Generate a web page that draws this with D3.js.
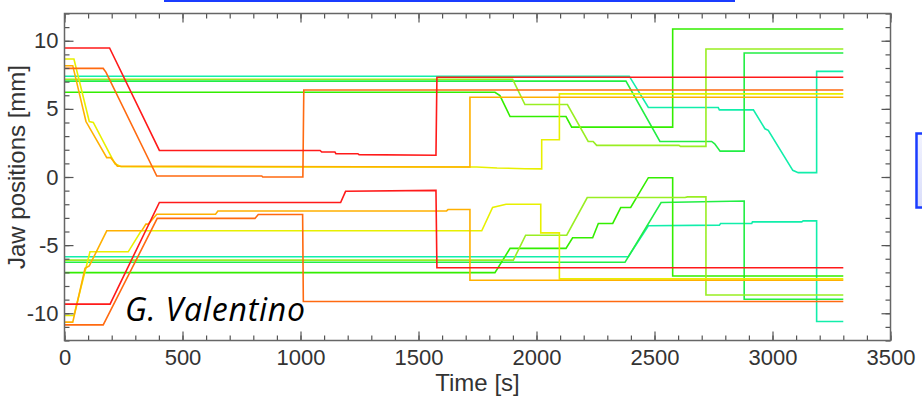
<!DOCTYPE html>
<html>
<head>
<meta charset="utf-8">
<script src="https://cdn.jsdelivr.net/npm/d3@7"></script>
<style>
  body { margin: 0; background: #fff; }
  svg { display: block; }
</style>
</head>
<body>
<div id="chart"></div>
<script>
// jaw positions [time s, position mm]
const redUp     = [[0,9.47],[191,9.47],[402,1.95],[1083,1.95],[1090,1.83],[1146,1.83],[1150,1.71],[1243,1.71],[1248,1.64],[1574,1.6],[1578,7.32],[3300,7.32]]
const redLow    = [[0,-9.33],[193,-9.33],[402,-1.87],[1170,-1.87],[1191,-1.05],[1574,-0.98],[1578,-6.66],[3300,-6.66]]
const orRedUp   = [[0,7.97],[164,7.97],[176,7.68],[391,0.07],[836,0.07],[840,0.0],[1010,0.0],[1014,6.39],[3300,6.39]]
const orRedLow  = [[0,-10.85],[164,-10.85],[176,-10.45],[393,-3.04],[807,-3.04],[821,-2.75],[1009,-2.75],[1012,-9.14],[3300,-9.14]]
const goldUp    = [[0,8.17],[35,8.17],[91,4.07],[179,1.42],[196,1.42],[224,0.8],[1718,0.73],[1718,5.85],[3300,5.85]]
const goldLow   = [[0,-10.65],[35,-10.65],[87,-6.7],[105,-6.53],[179,-3.95],[327,-3.95],[345,-3.46],[355,-3.46],[391,-2.73],[640,-2.73],[650,-2.49],[1619,-2.49],[1625,-2.39],[1718,-2.39],[1718,-7.58],[3300,-7.58]]
const yelUp     = [[0,8.66],[40,8.66],[105,4.07],[122,4.0],[214,0.97],[240,0.75],[1747,0.73],[1833,0.66],[1951,0.61],[2022,0.6],[2022,2.73],[2097,2.73],[2097,6.1],[3300,6.1]]
const yelLow    = [[0,-10.17],[40,-10.17],[108,-5.49],[270,-5.49],[325,-3.95],[1768,-3.95],[1814,-2.24],[1871,-2.0],[2018,-2.0],[2018,-4.1],[2097,-4.1],[2097,-7.48],[3300,-7.48]]
const ygUp      = [[0,7.17],[1899,7.17],[1951,5.32],[2131,5.32],[2219,2.61],[2240,2.61],[2255,2.32],[2604,2.32],[2610,2.25],[2718,2.25],[2718,9.39],[3300,9.39]]
const ygLow     = [[0,-6.1],[1902,-6.1],[1954,-4.27],[2128,-4.27],[2215,-1.51],[2629,-1.51],[2640,-1.46],[2718,-1.46],[2718,-8.66],[3300,-8.66]]
const greenUp   = [[0,6.22],[1824,6.22],[1845,5.97],[1888,4.44],[2125,4.44],[2149,3.66],[2577,3.66],[2577,10.86],[3300,10.86]]
const greenLow  = [[0,-7.02],[1824,-7.02],[1888,-5.24],[2125,-5.24],[2153,-4.46],[2238,-4.46],[2262,-3.41],[2323,-3.41],[2357,-2.24],[2399,-2.24],[2474,-0.05],[2577,-0.05],[2577,-7.27],[3300,-7.27]]
const green2Up  = [[0,7.04],[2379,7.04],[2523,2.61],[2742,2.61],[2755,2.44],[2778,1.9],[2880,1.9],[2880,9.1],[3300,9.1]]
const green2Low = [[0,-6.26],[2375,-6.26],[2528,-1.87],[2880,-1.76],[2880,-8.97],[3300,-8.97]]
const cyanUp    = [[0,7.4],[2393,7.4],[2474,5.1],[2770,5.1],[2775,4.93],[2919,4.93],[2968,3.54],[2982,3.42],[3086,0.49],[3109,0.32],[3187,0.32],[3187,7.75],[3300,7.75]]
const cyanLow   = [[0,-5.85],[2389,-5.85],[2474,-3.58],[2775,-3.53],[2780,-3.41],[2912,-3.41],[2915,-3.29],[3124,-3.29],[3130,-3.22],[3187,-3.22],[3187,-10.6],[3300,-10.6]]

const xTicks = [0,500,1000,1500,2000,2500,3000,3500]
const yTicks = [-10,-5,0,5,10]

const series = [
  {c:'#11eeaa', d:cyanUp}, {c:'#11eeaa', d:cyanLow},
  {c:'#22ee44', d:green2Up}, {c:'#22ee44', d:green2Low},
  {c:'#33ee00', d:greenUp}, {c:'#33ee00', d:greenLow},
  {c:'#99ee22', d:ygUp}, {c:'#99ee22', d:ygLow},
  {c:'#e8f000', d:yelUp}, {c:'#e8f000', d:yelLow},
  {c:'#ffb000', d:goldUp}, {c:'#ffb000', d:goldLow},
  {c:'#ff6a10', d:orRedUp}, {c:'#ff6a10', d:orRedLow},
  {c:'#ff1a1a', d:redUp}, {c:'#ff1a1a', d:redLow}
]

let W = 922, H = 404
let margin = {top:13.5, right:31.5, bottom:63.5, left:64.5}
let w = W - margin.left - margin.right
let h = H - margin.top - margin.bottom
let font = '"Liberation Sans", Arial, sans-serif'

let svg = d3.select('#chart').append('svg').attr('width',W).attr('height',H)

// slide decorations around the plot
svg.append('rect').attr('x',164).attr('y',-2).attr('width',571).attr('height',4).attr('fill','#1a3cff')
let grad = svg.append('defs').append('linearGradient').attr('id','bx').attr('x1',0).attr('y1',0).attr('x2',0).attr('y2',1)
grad.append('stop').attr('offset','0%').attr('stop-color','#f2f3ff')
grad.append('stop').attr('offset','100%').attr('stop-color','#d9ddfa')
svg.append('rect').attr('x',916.5).attr('y',133.5).attr('width',20).attr('height',74)
   .attr('fill','url(#bx)').attr('stroke','#1a3cff').attr('stroke-width',2.5)

let g = svg.append('g').attr('transform',`translate(${margin.left},${margin.top})`)

let x = d3.scaleLinear().domain([0,3500]).range([0,w])
let y = d3.scaleLinear().domain([-12,12]).range([h,0])

let line = d3.line().x(d=>x(d[0])).y(d=>y(d[1]))

g.append('g').selectAll('path').data(series).enter().append('path')
  .attr('d',s=>line(s.d))
  .attr('fill','none')
  .attr('stroke',s=>s.c)
  .attr('stroke-width',1.6)

// minor ticks
let xMinor = d3.range(0,3501,100)
let yMinor = d3.range(-12,12.01,1)
let tickCol = '#555'
let fmt = d=>String(d)   // plain hyphen minus like the original

function styleAxis(sel){
  sel.selectAll('.domain').remove()
  sel.selectAll('line').attr('stroke',tickCol).attr('stroke-width',1.2)
  sel.selectAll('text').attr('fill','#333').attr('font-size','22px').attr('font-family',font)
}

g.append('g').attr('transform',`translate(0,${h})`)
  .call(d3.axisBottom(x).tickValues(xMinor).tickSize(-5).tickFormat(''))
  .call(styleAxis)
g.append('g')
  .call(d3.axisTop(x).tickValues(xMinor).tickSize(-5).tickFormat(''))
  .call(styleAxis)
g.append('g')
  .call(d3.axisLeft(y).tickValues(yMinor).tickSize(-5).tickFormat(''))
  .call(styleAxis)
g.append('g').attr('transform',`translate(${w},0)`)
  .call(d3.axisRight(y).tickValues(yMinor).tickSize(-5).tickFormat(''))
  .call(styleAxis)

// major ticks with labels
g.append('g').attr('transform',`translate(0,${h})`)
  .call(d3.axisBottom(x).tickValues(xTicks).tickSize(-9).tickPadding(9).tickFormat(fmt))
  .call(styleAxis)
g.append('g')
  .call(d3.axisTop(x).tickValues(xTicks).tickSize(-9).tickFormat(''))
  .call(styleAxis)
g.append('g')
  .call(d3.axisLeft(y).tickValues(yTicks).tickSize(-9).tickPadding(6).tickFormat(fmt))
  .call(styleAxis)
g.append('g').attr('transform',`translate(${w},0)`)
  .call(d3.axisRight(y).tickValues(yTicks).tickSize(-9).tickFormat(''))
  .call(styleAxis)

// frame
g.append('rect').attr('width',w).attr('height',h).attr('fill','none').attr('stroke','#666').attr('stroke-width',1.5)

g.append('text')
  .attr('x',w/2).attr('y',h+50)
  .attr('text-anchor','middle')
  .attr('font-family',font).attr('font-size','24px').attr('fill','#333')
  .text('Time [s]')

g.append('text')
  .attr('transform',`translate(${-40},${h/2-10}) rotate(-90)`)
  .attr('text-anchor','middle')
  .attr('font-family',font).attr('font-size','24px').attr('fill','#333')
  .text('Jaw positions [mm]')

svg.append('text')
  .attr('x',125).attr('y',320.5)
  .attr('font-family','"Open Sans", Lato, sans-serif').attr('font-style','italic').attr('font-size','32px')
  .attr('letter-spacing','0.8px').attr('fill','#000')
  .text('G. Valentino')
</script>
</body>
</html>
